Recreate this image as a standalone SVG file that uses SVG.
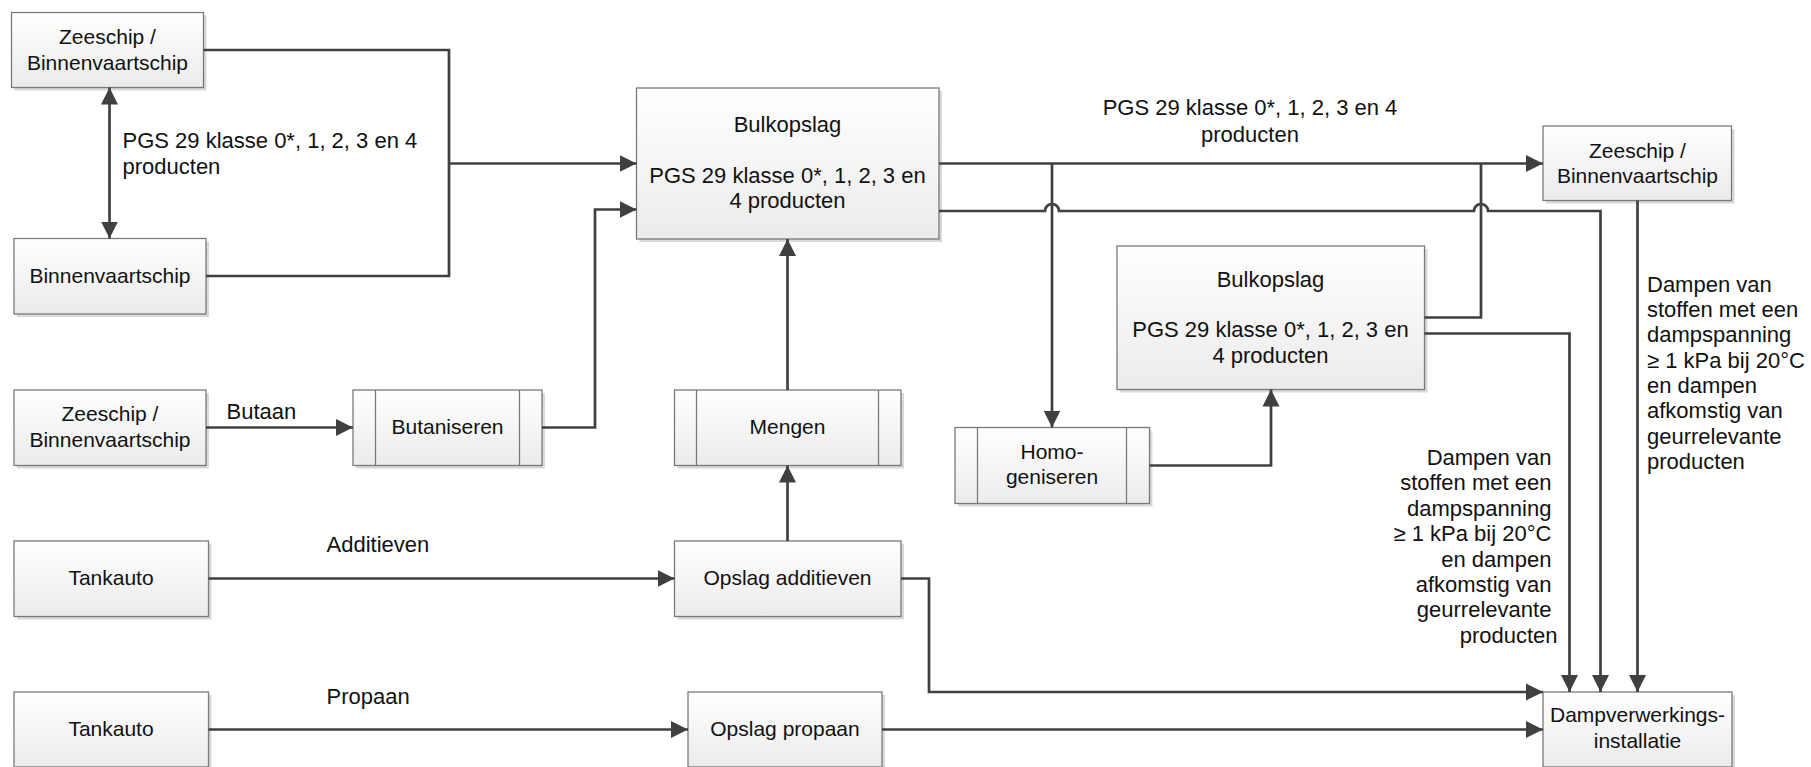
<svg xmlns="http://www.w3.org/2000/svg" width="1811" height="767" viewBox="0 0 1811 767">
<defs>
<linearGradient id="gf" x1="0" y1="0" x2="0" y2="1">
<stop offset="0" stop-color="#ffffff"/>
<stop offset="1" stop-color="#ebebeb"/>
</linearGradient>
<marker id="ah" markerUnits="userSpaceOnUse" markerWidth="18" markerHeight="18" viewBox="0 0 18 18" refX="17" refY="9" orient="auto-start-reverse">
<path d="M0,0.5 L17,9 L0,17.5 z" fill="#404040"/>
</marker>
</defs>
<style>
.sh{fill:#d9d9d9;}
.bx{fill:url(#gf);stroke:#7a7a7a;stroke-width:1.3;}
.bar{stroke:#7a7a7a;stroke-width:1.3;fill:none;}
.t{font-family:"Liberation Sans",Arial,sans-serif;font-size:21px;fill:#111;text-anchor:middle;}
.tb{font-size:22px;}
.l{font-family:"Liberation Sans",Arial,sans-serif;font-size:22px;fill:#111;}
.c{fill:none;stroke:#404040;stroke-width:2.7;}
.a{marker-end:url(#ah);}
</style>
<rect width="1811" height="767" fill="#ffffff"/>

<g id="n-zeeschip1">
<rect class="sh" x="14.5" y="15.5" width="192" height="75"/>
<rect class="bx" x="11.5" y="12.5" width="192" height="75"/>
<text class="t" x="107.5" y="44">Zeeschip /</text>
<text class="t" x="107.5" y="69.5">Binnenvaartschip</text>
</g>
<g id="n-binnenvaartschip">
<rect class="sh" x="17" y="241.5" width="192" height="75.5"/>
<rect class="bx" x="14" y="238.5" width="192" height="75.5"/>
<text class="t" x="110" y="283">Binnenvaartschip</text>
</g>
<g id="n-bulkopslag1">
<rect class="sh" x="639.5" y="91" width="302.5" height="151"/>
<rect class="bx" x="636.5" y="88" width="302.5" height="151"/>
<text class="t tb" x="787.5" y="132">Bulkopslag</text>
<text class="t tb" x="787.5" y="183">PGS 29 klasse 0*, 1, 2, 3 en</text>
<text class="t tb" x="787.5" y="208">4 producten</text>
</g>
<g id="n-zeeschip2">
<rect class="sh" x="1546" y="129" width="188.5" height="74.5"/>
<rect class="bx" x="1543" y="126" width="188.5" height="74.5"/>
<text class="t" x="1637.5" y="157.5">Zeeschip /</text>
<text class="t" x="1637.5" y="182.5">Binnenvaartschip</text>
</g>
<g id="n-bulkopslag2">
<rect class="sh" x="1120" y="249" width="307.5" height="143.5"/>
<rect class="bx" x="1117" y="246" width="307.5" height="143.5"/>
<text class="t tb" x="1270.5" y="287">Bulkopslag</text>
<text class="t tb" x="1270.5" y="337">PGS 29 klasse 0*, 1, 2, 3 en</text>
<text class="t tb" x="1270.5" y="363">4 producten</text>
</g>
<g id="n-zeeschip3">
<rect class="sh" x="17" y="393" width="192" height="75.5"/>
<rect class="bx" x="14" y="390" width="192" height="75.5"/>
<text class="t" x="110" y="421">Zeeschip /</text>
<text class="t" x="110" y="447">Binnenvaartschip</text>
</g>
<g id="n-butaniseren">
<rect class="sh" x="356" y="393" width="189" height="75.5"/>
<rect class="bx" x="353" y="390" width="189" height="75.5"/>
<path class="bar" d="M375.5 390V465.5M519.5 390V465.5"/>
<text class="t" x="447.5" y="433.5">Butaniseren</text>
</g>
<g id="n-mengen">
<rect class="sh" x="677.5" y="393" width="226.5" height="75.5"/>
<rect class="bx" x="674.5" y="390" width="226.5" height="75.5"/>
<path class="bar" d="M696.5 390V465.5M878.5 390V465.5"/>
<text class="t" x="787.5" y="433.5">Mengen</text>
</g>
<g id="n-homogeniseren">
<rect class="sh" x="958" y="430.5" width="194.5" height="76"/>
<rect class="bx" x="955" y="427.5" width="194.5" height="76"/>
<path class="bar" d="M977.5 427.5V503.5M1126.5 427.5V503.5"/>
<text class="t" x="1052" y="458.5">Homo-</text>
<text class="t" x="1052" y="483.5">geniseren</text>
</g>
<g id="n-tankauto1">
<rect class="sh" x="17" y="544" width="194.5" height="75.5"/>
<rect class="bx" x="14" y="541" width="194.5" height="75.5"/>
<text class="t" x="111" y="585">Tankauto</text>
</g>
<g id="n-opslag-additieven">
<rect class="sh" x="677.5" y="544" width="226.5" height="75.5"/>
<rect class="bx" x="674.5" y="541" width="226.5" height="75.5"/>
<text class="t" x="787.5" y="585">Opslag additieven</text>
</g>
<g id="n-tankauto2">
<rect class="sh" x="17" y="695" width="194.5" height="75"/>
<rect class="bx" x="14" y="692" width="194.5" height="75"/>
<text class="t" x="111" y="736">Tankauto</text>
</g>
<g id="n-opslag-propaan">
<rect class="sh" x="691" y="695" width="194" height="75"/>
<rect class="bx" x="688" y="692" width="194" height="75"/>
<text class="t" x="785" y="736">Opslag propaan</text>
</g>
<g id="n-dampverwerking">
<rect class="sh" x="1546" y="695" width="189" height="75"/>
<rect class="bx" x="1543" y="692" width="189" height="75"/>
<text class="t" x="1637.5" y="722">Dampverwerkings-</text>
<text class="t" x="1637.5" y="748">installatie</text>
</g>

<g id="connectors">
<path class="c" d="M203.5 50H449V276H206"/>
<path class="c a" d="M449 163.5H636.5"/>
<path class="c" d="M109.5 87.5V238.5" marker-start="url(#ah)" marker-end="url(#ah)"/>
<path class="c a" d="M206 427.5H353"/>
<path class="c a" d="M542 427.5H595V209.5H636.5"/>
<path class="c a" d="M787.5 390V239"/>
<path class="c a" d="M787.5 541V465.5"/>
<path class="c a" d="M208.5 578.5H674.5"/>
<path class="c a" d="M208.5 729.5H688"/>
<path class="c a" d="M882 729.5H1543"/>
<path class="c a" d="M901 578.5H929V692H1543"/>
<path class="c a" d="M939 163.5H1543"/>
<path class="c a" d="M1052 163.5V427.5"/>
<path class="c" d="M1424.5 317.5H1481V163.5"/>
<path class="c a" d="M939 211H1045a7 7 0 0 1 14 0H1474a7 7 0 0 1 14 0H1600.5V692"/>
<path class="c a" d="M1424.5 333.5H1569.5V692"/>
<path class="c a" d="M1637.5 200.5V692"/>
<path class="c a" d="M1149.5 465.5H1271V389.5"/>
</g>

<g id="labels">
<text class="l" x="122.5" y="148">PGS 29 klasse 0*, 1, 2, 3 en 4</text>
<text class="l" x="122.5" y="173.5">producten</text>
<text class="l" x="1250" y="115" text-anchor="middle">PGS 29 klasse 0*, 1, 2, 3 en 4</text>
<text class="l" x="1250" y="141.5" text-anchor="middle">producten</text>
<text class="l" x="226.5" y="418.5">Butaan</text>
<text class="l" x="326.5" y="552">Additieven</text>
<text class="l" x="326.5" y="703.5">Propaan</text>
<text class="l" x="1647">
<tspan x="1647" y="291.5">Dampen van</tspan>
<tspan x="1647" y="317">stoffen met een</tspan>
<tspan x="1647" y="342.3">dampspanning</tspan>
<tspan x="1647" y="367.6">≥ 1 kPa bij 20°C</tspan>
<tspan x="1647" y="393">en dampen</tspan>
<tspan x="1647" y="418.3">afkomstig van</tspan>
<tspan x="1647" y="443.6">geurrelevante</tspan>
<tspan x="1647" y="469">producten</tspan>
</text>
<text class="l" text-anchor="end">
<tspan x="1557.5" y="465">Dampen van</tspan>
<tspan x="1557.5" y="490.4">stoffen met een</tspan>
<tspan x="1557.5" y="515.8">dampspanning</tspan>
<tspan x="1557.5" y="541.2">≥ 1 kPa bij 20°C</tspan>
<tspan x="1557.5" y="566.6">en dampen</tspan>
<tspan x="1557.5" y="592">afkomstig van</tspan>
<tspan x="1557.5" y="617.4">geurrelevante</tspan>
<tspan x="1557.5" y="642.8">producten</tspan>
</text>
</g>
</svg>
